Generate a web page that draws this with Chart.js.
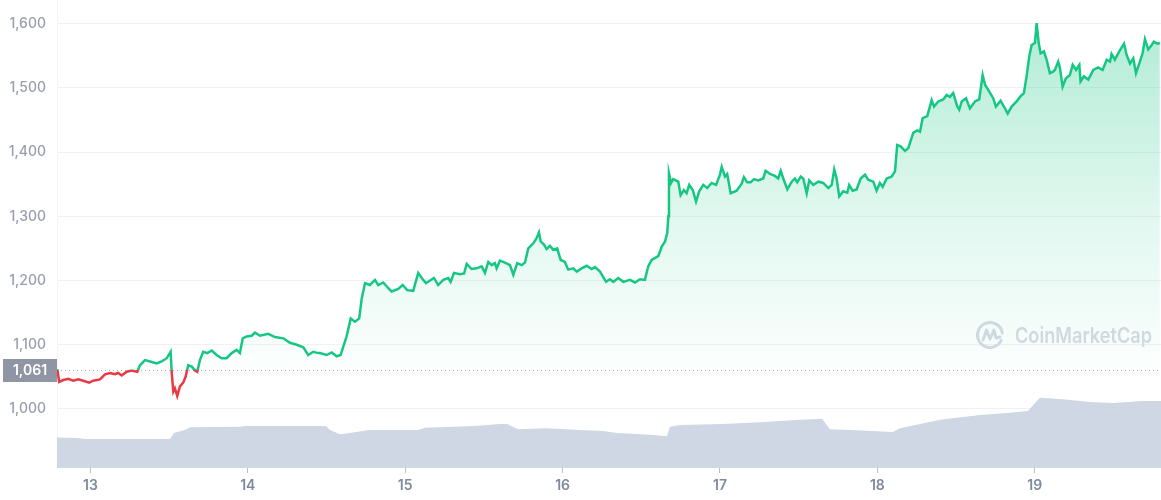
<!DOCTYPE html>
<html>
<head>
<meta charset="utf-8">
<script src="https://cdn.jsdelivr.net/npm/chart.js@4.4.1/dist/chart.umd.min.js"></script>
<style>
  html, body { margin: 0; padding: 0; background: #fff; }
  #wrap { width: 1161px; height: 500px; position: relative; }
</style>
</head>
<body>
<div id="wrap"><canvas id="chart"></canvas></div>
<script>
// price series (x = day of month, fractional)
const priceDays = [
  12.790, 12.802, 12.828, 12.860, 12.891, 12.923, 12.955, 12.993, 13.018, 13.061,
  13.093, 13.125, 13.156, 13.177, 13.199, 13.231, 13.262, 13.298, 13.315, 13.347,
  13.379, 13.421, 13.453, 13.485, 13.510, 13.517, 13.527, 13.537, 13.552, 13.569,
  13.590, 13.605, 13.622, 13.644, 13.665, 13.679, 13.696, 13.717, 13.743, 13.771,
  13.802, 13.834, 13.866, 13.898, 13.929, 13.950, 13.968, 13.993, 14.025, 14.046,
  14.077, 14.130, 14.173, 14.226, 14.268, 14.311, 14.353, 14.384, 14.416, 14.448,
  14.459, 14.501, 14.533, 14.565, 14.590, 14.607, 14.628, 14.654, 14.681, 14.708,
  14.724, 14.745, 14.776, 14.808, 14.829, 14.861, 14.893, 14.914, 14.956, 14.984,
  15.013, 15.051, 15.083, 15.105, 15.132, 15.158, 15.183, 15.210, 15.242, 15.274,
  15.289, 15.310, 15.348, 15.374, 15.391, 15.422, 15.454, 15.486, 15.507, 15.528,
  15.550, 15.570, 15.581, 15.602, 15.634, 15.666, 15.687, 15.712, 15.740, 15.761,
  15.782, 15.814, 15.835, 15.850, 15.861, 15.882, 15.899, 15.920, 15.941, 15.966,
  15.988, 16.015, 16.036, 16.068, 16.090, 16.121, 16.153, 16.185, 16.206, 16.238,
  16.276, 16.301, 16.322, 16.354, 16.386, 16.428, 16.460, 16.492, 16.523, 16.544,
  16.566, 16.608, 16.630, 16.651, 16.665, 16.672, 16.676, 16.689, 16.703, 16.735,
  16.750, 16.771, 16.788, 16.805, 16.827, 16.848, 16.868, 16.894, 16.919, 16.947,
  16.975, 17.000, 17.011, 17.032, 17.046, 17.068, 17.106, 17.138, 17.152, 17.173,
  17.195, 17.216, 17.243, 17.275, 17.290, 17.318, 17.349, 17.370, 17.386, 17.402,
  17.428, 17.456, 17.476, 17.491, 17.513, 17.529, 17.551, 17.567, 17.593, 17.625,
  17.656, 17.688, 17.710, 17.726, 17.741, 17.758, 17.783, 17.809, 17.821, 17.843,
  17.868, 17.894, 17.921, 17.942, 17.974, 17.995, 18.016, 18.034, 18.059, 18.091,
  18.112, 18.126, 18.148, 18.175, 18.196, 18.228, 18.253, 18.271, 18.288, 18.317,
  18.345, 18.360, 18.387, 18.419, 18.440, 18.461, 18.482, 18.508, 18.520, 18.536,
  18.563, 18.588, 18.620, 18.647, 18.669, 18.684, 18.704, 18.736, 18.753, 18.783,
  18.811, 18.828, 18.853, 18.885, 18.906, 18.931, 18.948, 18.965, 18.980, 19.001,
  19.012, 19.025, 19.037, 19.058, 19.075, 19.096, 19.114, 19.128, 19.149, 19.160,
  19.177, 19.198, 19.223, 19.241, 19.262, 19.283, 19.291, 19.312, 19.340, 19.372,
  19.403, 19.431, 19.457, 19.478, 19.488, 19.509, 19.537, 19.567, 19.584, 19.605,
  19.626, 19.643, 19.664, 19.685, 19.700, 19.721, 19.743, 19.757, 19.778, 19.795
];
const prices = [
  1062, 1042, 1045, 1047, 1044, 1046, 1044, 1041, 1044, 1046,
  1054, 1056, 1054, 1056, 1052, 1058, 1060, 1058, 1068, 1076,
  1074, 1071, 1074, 1079, 1089, 1056, 1027, 1032, 1020, 1035,
  1041, 1050, 1068, 1066, 1060, 1058, 1076, 1089, 1087, 1091,
  1084, 1079, 1079, 1087, 1092, 1087, 1110, 1113, 1114, 1119,
  1114, 1117, 1112, 1110, 1103, 1100, 1096, 1084, 1089, 1087,
  1087, 1084, 1088, 1082, 1084, 1097, 1113, 1141, 1136, 1141,
  1172, 1196, 1193, 1201, 1193, 1197, 1188, 1183, 1187, 1193,
  1185, 1184, 1212, 1204, 1196, 1200, 1204, 1193, 1201, 1204,
  1198, 1212, 1210, 1211, 1226, 1218, 1219, 1222, 1212, 1229,
  1224, 1227, 1219, 1231, 1228, 1224, 1209, 1227, 1224, 1228,
  1250, 1258, 1266, 1275, 1261, 1256, 1249, 1254, 1248, 1250,
  1232, 1229, 1217, 1219, 1214, 1219, 1223, 1218, 1221, 1214,
  1198, 1202, 1198, 1204, 1198, 1201, 1197, 1202, 1201, 1222,
  1232, 1238, 1253, 1261, 1274, 1300, 1367, 1352, 1358, 1354,
  1333, 1341, 1336, 1349, 1341, 1323, 1339, 1349, 1344, 1352,
  1349, 1365, 1377, 1362, 1366, 1336, 1340, 1351, 1361, 1353,
  1353, 1358, 1356, 1359, 1371, 1366, 1363, 1359, 1371, 1359,
  1342, 1354, 1359, 1353, 1362, 1359, 1336, 1356, 1349, 1354,
  1352, 1344, 1349, 1373, 1359, 1331, 1339, 1337, 1349, 1340,
  1342, 1359, 1365, 1357, 1354, 1340, 1352, 1346, 1359, 1362,
  1370, 1411, 1409, 1402, 1406, 1430, 1434, 1432, 1453, 1456,
  1481, 1471, 1479, 1482, 1489, 1486, 1492, 1471, 1466, 1479,
  1484, 1468, 1479, 1482, 1520, 1505, 1497, 1484, 1471, 1480,
  1468, 1460, 1471, 1479, 1486, 1492, 1518, 1549, 1567, 1570,
  1601, 1570, 1554, 1557, 1544, 1523, 1525, 1528, 1541, 1531,
  1502, 1515, 1520, 1536, 1528, 1536, 1510, 1518, 1513, 1528,
  1532, 1528, 1544, 1541, 1553, 1544, 1557, 1569, 1551, 1538,
  1546, 1523, 1538, 1554, 1576, 1560, 1567, 1572, 1569, 1570
];

// volume (billions, relative)
const volumeDays = [
  12.788, 12.921, 12.966, 13.506, 13.531, 13.601, 13.633, 13.957, 13.982, 14.497,
  14.522, 14.586, 14.649, 14.770, 15.081, 15.126, 15.443, 15.602, 15.647, 15.717,
  15.894, 16.111, 16.257, 16.346, 16.555, 16.663, 16.682, 16.746, 17.019, 17.254,
  17.508, 17.648, 17.699, 17.826, 18.099, 18.143, 18.398, 18.652, 18.842, 18.957,
  19.033, 19.179, 19.351, 19.497, 19.605, 19.668, 19.802
];
const volumes = [
  0.65, 0.64, 0.62, 0.62, 0.75, 0.81, 0.87, 0.88, 0.90, 0.90,
  0.81, 0.72, 0.75, 0.81, 0.81, 0.86, 0.90, 0.94, 0.94, 0.83,
  0.85, 0.81, 0.79, 0.75, 0.71, 0.68, 0.88, 0.92, 0.94, 0.98,
  1.03, 1.05, 0.83, 0.81, 0.77, 0.85, 1.03, 1.13, 1.18, 1.22,
  1.50, 1.47, 1.41, 1.39, 1.41, 1.43, 1.43
];

const dayTicks = [13, 14, 15, 16, 17, 18, 19];
const priceTicks = [1000, 1100, 1200, 1300, 1400, 1500, 1600];
const baseline = 1061;

const GREEN = '#16c784';
const RED = '#ea3943';

function lineColor(ctx) {
  const chart = ctx.chart;
  const area = chart.chartArea;
  if (!area) return GREEN;
  const y0 = chart.scales.y.getPixelForValue(baseline);
  const f = Math.min(1, Math.max(0, (y0 - area.top) / (area.bottom - area.top)));
  const g = chart.ctx.createLinearGradient(0, area.top, 0, area.bottom);
  g.addColorStop(0, GREEN);
  g.addColorStop(f, GREEN);
  g.addColorStop(f, RED);
  g.addColorStop(1, RED);
  return g;
}

function fillColor(ctx) {
  const chart = ctx.chart;
  const area = chart.chartArea;
  if (!area) return 'rgba(22,199,132,0.15)';
  const y0 = chart.scales.y.getPixelForValue(baseline);
  const g = chart.ctx.createLinearGradient(0, area.top, 0, y0);
  g.addColorStop(0, 'rgba(22,199,132,0.36)');
  g.addColorStop(0.55, 'rgba(22,199,132,0.14)');
  g.addColorStop(1, 'rgba(22,199,132,0.01)');
  return g;
}

const baselinePlugin = {
  id: 'baseline',
  beforeDatasetsDraw(chart) {
    const { ctx, chartArea } = chart;
    const y = Math.round(chart.scales.y.getPixelForValue(baseline)) + 0.5;
    ctx.save();
    ctx.strokeStyle = '#a7adba';
    ctx.lineWidth = 1;
    ctx.setLineDash([1, 3]);
    ctx.beginPath();
    ctx.moveTo(chartArea.left, y);
    ctx.lineTo(chartArea.right, y);
    ctx.stroke();
    ctx.setLineDash([]);

    // watermark
    ctx.strokeStyle = '#d6dae4';
    ctx.fillStyle = '#d6dae4';
    ctx.lineWidth = 3;
    ctx.lineCap = 'round';
    ctx.lineJoin = 'round';
    const cx = 990, cy = 335, r = 12.5;
    ctx.beginPath();
    ctx.arc(cx, cy, r, 0.15 * Math.PI, 1.95 * Math.PI);
    ctx.stroke();
    ctx.beginPath();
    ctx.moveTo(cx - 7, cy + 5);
    ctx.lineTo(cx - 3.5, cy - 5);
    ctx.lineTo(cx, cy + 4);
    ctx.lineTo(cx + 4, cy - 5);
    ctx.lineTo(cx + 6, cy + 3);
    ctx.lineTo(cx + 10, cy + 2);
    ctx.stroke();
    ctx.font = '600 21px Inter, "Noto Sans", sans-serif';
    ctx.textBaseline = 'alphabetic';
    ctx.textAlign = 'left';
    const w = ctx.measureText('CoinMarketCap').width;
    const sx = 137 / w;
    ctx.translate(1015, 343);
    ctx.scale(sx, 1);
    ctx.fillText('CoinMarketCap', 0, 0);
    ctx.restore();
  },
  afterDraw(chart) {
    const { ctx } = chart;
    const y = chart.scales.y.getPixelForValue(baseline);
    ctx.save();
    ctx.fillStyle = '#8f95a3';
    ctx.fillRect(3, Math.round(y) - 11, 54, 23);
    ctx.fillStyle = '#ffffff';
    ctx.font = '600 14px Inter, "Noto Sans", sans-serif';
    ctx.textAlign = 'center';
    ctx.textBaseline = 'middle';
    ctx.fillText(baseline.toLocaleString('en-US'), 30, Math.round(y) + 1);
    ctx.restore();
  }
};

const pricePoints = priceDays.map((d, i) => ({ x: d, y: prices[i] }));
const volumePoints = volumeDays.map((d, i) => ({ x: d, y: volumes[i] }));

new Chart(document.getElementById('chart'), {
  type: 'line',
  data: {
    datasets: [
      {
        label: 'Price',
        data: pricePoints,
        yAxisID: 'y',
        borderColor: lineColor,
        backgroundColor: fillColor,
        borderWidth: 2.5,
        pointRadius: 0,
        tension: 0,
        fill: { target: { value: baseline }, below: 'rgba(0,0,0,0)' },
        order: 1
      },
      {
        label: 'Volume',
        data: volumePoints,
        yAxisID: 'y2',
        borderWidth: 0,
        borderColor: '#cfd6e4',
        backgroundColor: '#cfd6e4',
        pointRadius: 0,
        tension: 0,
        fill: 'origin',
        order: 2
      }
    ]
  },
  options: {
    responsive: true,
    maintainAspectRatio: false,
    animation: false,
    layout: { padding: 0 },
    plugins: {
      legend: { display: false },
      tooltip: { enabled: false }
    },
    scales: {
      x: {
        type: 'linear',
        min: 12.788,
        max: 19.802,
        afterBuildTicks: (scale) => { scale.ticks = dayTicks.map(v => ({ value: v })); },
        afterFit: (scale) => {
          scale.height = 32;
          scale.paddingLeft = 0;
          scale.paddingRight = 0;
        },
        grid: { drawOnChartArea: false, tickLength: 5, color: '#b9bfcb' },
        border: { display: false },
        ticks: {
          padding: 4,
          color: '#808a9d',
          font: { family: 'Inter', size: 14, weight: '600' },
          maxRotation: 0,
          callback: (v) => String(v)
        }
      },
      y: {
        min: 908,
        max: 1637,
        afterBuildTicks: (scale) => { scale.ticks = priceTicks.map(v => ({ value: v })); },
        afterFit: (scale) => {
          scale.width = 57;
          scale.paddingTop = 0;
          scale.paddingBottom = 0;
        },
        grid: { drawTicks: false, color: '#eff1f3' },
        border: { display: true, color: '#f4f5f7' },
        ticks: {
          padding: 11,
          color: '#979eae',
          font: { family: 'Inter', size: 14, weight: '500' },
          callback: (v) => v.toLocaleString('en-US')
        }
      },
      y2: {
        display: false,
        min: 0,
        max: 10
      }
    }
  },
  plugins: [baselinePlugin]
});
</script>
</body>
</html>
